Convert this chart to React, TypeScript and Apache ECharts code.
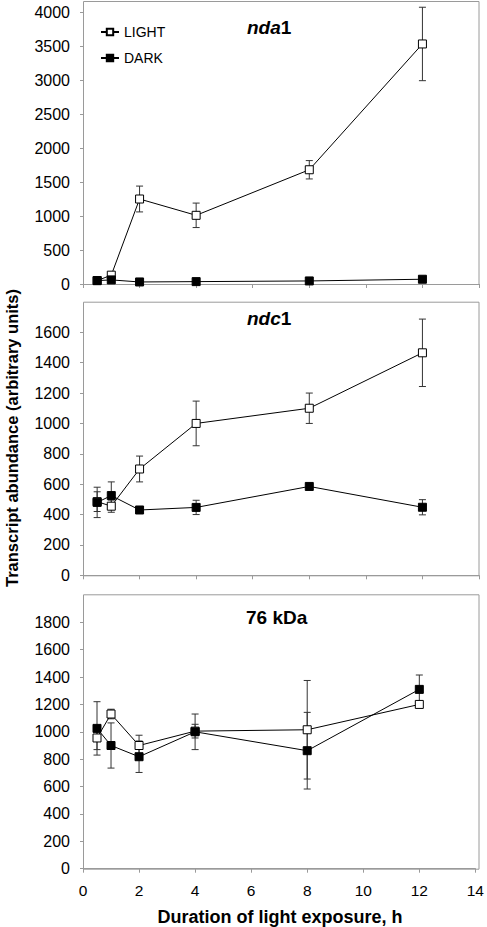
import React, { useEffect, useRef } from "react";
import * as echarts from "echarts";

const hours = [0.5, 1, 2, 4, 8, 12];
const xTicks = { min: 0, max: 14, interval: 2 };

const nda1Light = [50, 130, 1250, 1010, 1680, 3530];
const nda1LightErr = [0, 0, 190, 180, 135, 540];
const nda1Dark = [50, 60, 30, 35, 45, 70];
const nda1DarkErr = [0, 0, 0, 0, 0, 0];

const ndc1Light = [485, 455, 700, 1000, 1100, 1465];
const ndc1LightErr = [65, 40, 85, 147, 100, 222];
const ndc1Dark = [480, 525, 430, 447, 585, 448];
const ndc1DarkErr = [100, 90, 10, 47, 12, 50];

const kda76Light = [955, 1130, 900, 1005, 1015, 1200];
const kda76LightErr = [85, 35, 75, 50, 360, 20];
const kda76Dark = [1025, 900, 818, 1000, 862, 1310];
const kda76DarkErr = [195, 165, 115, 130, 280, 105];

const yRanges = [
  { max: 4000, interval: 500 },
  { max: 1600, interval: 200 },
  { max: 1800, interval: 200 },
];

const FONT = "'Liberation Sans', Arial, Helvetica, sans-serif";
const GRAY = "#9a9a9a";

function errSeries(idx: number, vals: number[], errs: number[]) {
  return {
    type: "custom",
    xAxisIndex: idx,
    yAxisIndex: idx,
    silent: true,
    z: 1,
    encode: { x: 0, y: 1 },
    data: hours.map((h, i) => [h, vals[i], errs[i]]),
    renderItem: (_p: any, api: any) => {
      const x = api.value(0);
      const v = api.value(1);
      const e = api.value(2);
      if (!e) return { type: "group", children: [] };
      const t = api.coord([x, v + e]);
      const b = api.coord([x, v - e]);
      const w = 3.5;
      const st = { stroke: "#333", lineWidth: 1 };
      return {
        type: "group",
        children: [
          { type: "line", shape: { x1: t[0], y1: t[1], x2: b[0], y2: b[1] }, style: st },
          { type: "line", shape: { x1: t[0] - w, y1: t[1], x2: t[0] + w, y2: t[1] }, style: st },
          { type: "line", shape: { x1: b[0] - w, y1: b[1], x2: b[0] + w, y2: b[1] }, style: st },
        ],
      };
    },
  };
}

function lineSeries(idx: number, name: string, vals: number[], dark: boolean) {
  return {
    type: "line",
    name,
    xAxisIndex: idx,
    yAxisIndex: idx,
    data: hours.map((h, i) => [h, vals[i]]),
    symbol: "rect",
    symbolSize: 8,
    color: "#000",
    lineStyle: { color: "#000", width: 1 },
    itemStyle: dark
      ? { color: "#000", borderColor: "#000", borderWidth: 1 }
      : { color: "#fff", borderColor: "#000", borderWidth: 1 },
    z: dark ? 4 : 3,
  };
}

export default function App() {
  const ref = useRef<HTMLDivElement>(null);
  useEffect(() => {
    if (!ref.current) return;
    const chart = echarts.init(ref.current, undefined, { renderer: "svg" });
    const grids = [
      { left: 83, right: 8, top: 12, bottom: 643 },
      { left: 83, right: 8, top: 332.3, bottom: 351.7 },
      { left: 83, right: 8, top: 622.3, bottom: 58.3 },
    ];
    const boxes = [
      { y: 1, h: 283 },
      { y: 301.7, h: 273.6 },
      { y: 594.3, h: 274.4 },
    ];
    const xAxes = [0, 1, 2].map((i) => ({
      type: "value",
      gridIndex: i,
      ...xTicks,
      axisLine: { show: true, lineStyle: { color: GRAY } },
      axisTick: { show: true, length: 4, lineStyle: { color: GRAY } },
      splitLine: { show: false },
      axisLabel: {
        show: i === 2,
        fontSize: 15.5,
        color: "#000",
        fontFamily: FONT,
        margin: 14,
        formatter: (v: number) => String(v),
      },
    }));
    const yAxes = [0, 1, 2].map((i) => ({
      type: "value",
      gridIndex: i,
      min: 0,
      max: yRanges[i].max,
      interval: yRanges[i].interval,
      axisLine: { show: true, lineStyle: { color: GRAY } },
      axisTick: { show: true, length: 3, lineStyle: { color: GRAY } },
      splitLine: { show: false },
      axisLabel: {
        fontSize: 16,
        color: "#000",
        fontFamily: FONT,
        margin: 13,
        formatter: (v: number) => String(v),
      },
    }));
    const titleStyle = (x: number, y: number, rich: string) => ({
      type: "text",
      x,
      y,
      style: {
        text: rich,
        fill: "#000",
        verticalAlign: "middle",
        align: "left",
        font: `bold 19px ${FONT}`,
        rich: {
          it: { fontStyle: "italic", fontWeight: "bold", fontSize: 19, fontFamily: FONT },
          n: { fontWeight: "bold", fontSize: 19, fontFamily: FONT },
        },
      },
      z: 10,
    });
    chart.setOption({
      animation: false,
      backgroundColor: "#fff",
      grid: grids,
      xAxis: xAxes,
      yAxis: yAxes,
      legend: {
        data: ["LIGHT", "DARK"],
        orient: "vertical",
        left: 95,
        top: 20,
        itemWidth: 18,
        itemHeight: 8,
        itemGap: 12,
        textStyle: { fontSize: 14, color: "#000", fontFamily: FONT, lineHeight: 14 },
      },
      graphic: [
        ...boxes.map((b) => ({
          type: "rect",
          shape: { x: 83.5, y: b.y + 0.5, width: 395.5, height: b.h },
          style: { fill: "none", stroke: GRAY, lineWidth: 1 },
          z: 0,
          silent: true,
        })),
        titleStyle(247, 27, "{it|nda}{n|1}"),
        titleStyle(247, 318, "{it|ndc}{n|1}"),
        titleStyle(246, 617, "{n|76 kDa}"),
        {
          type: "text",
          x: 12,
          y: 438,
          rotation: Math.PI / 2,
          style: {
            text: "Transcript abundance (arbitrary units)",
            font: `bold 16.5px ${FONT}`,
            fill: "#000",
            align: "center",
            verticalAlign: "middle",
          },
        },
        {
          type: "text",
          x: 280,
          y: 917,
          style: {
            text: "Duration of light exposure, h",
            font: `bold 18px ${FONT}`,
            fill: "#000",
            align: "center",
            verticalAlign: "middle",
          },
        },
      ],
      series: [
        errSeries(0, nda1Light, nda1LightErr),
        errSeries(0, nda1Dark, nda1DarkErr),
        lineSeries(0, "LIGHT", nda1Light, false),
        lineSeries(0, "DARK", nda1Dark, true),
        errSeries(1, ndc1Light, ndc1LightErr),
        errSeries(1, ndc1Dark, ndc1DarkErr),
        lineSeries(1, "LIGHT", ndc1Light, false),
        lineSeries(1, "DARK", ndc1Dark, true),
        errSeries(2, kda76Light, kda76LightErr),
        errSeries(2, kda76Dark, kda76DarkErr),
        lineSeries(2, "LIGHT", kda76Light, false),
        lineSeries(2, "DARK", kda76Dark, true),
      ],
    });
    return () => chart.dispose();
  }, []);
  return (
    <div
      ref={ref}
      style={{ position: "fixed", left: 0, top: 0, width: 487, height: 927, background: "#fff" }}
    />
  );
}
